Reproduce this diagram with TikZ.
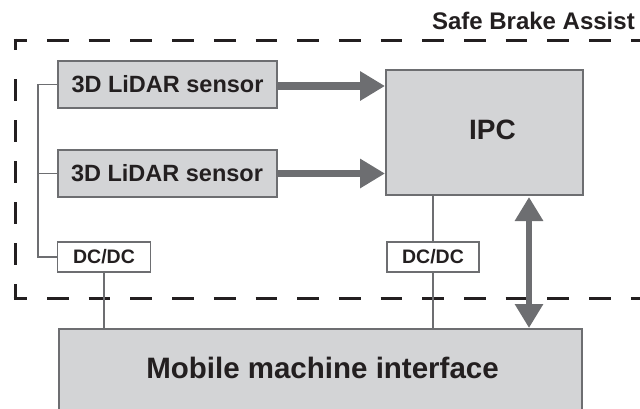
\documentclass[tikz,border=0pt]{standalone}
\usepackage{fontspec}
\setmainfont{Liberation Sans}
\usetikzlibrary{arrows.meta}
\definecolor{edgegray}{HTML}{6D6E71}
\definecolor{boxfill}{HTML}{D3D4D6}
\definecolor{ink}{HTML}{231F20}
\begin{document}
\begin{tikzpicture}[x=1pt,y=-1pt,
  gbox/.style={draw=edgegray, line width=2pt, fill=boxfill, inner sep=0pt, text=ink, font=\bfseries},
  lidarbox/.style={gbox, minimum width=219pt, minimum height=47pt, font=\bfseries\fontsize{23.5}{26}\selectfont},
  wbox/.style={draw=edgegray, line width=1.8pt, fill=white, inner sep=0pt, text=ink, font=\bfseries\fontsize{19.5}{22}\selectfont, minimum width=93pt, minimum height=30pt},
  wire/.style={draw=edgegray, line width=1.5pt},
  fat/.style={draw=edgegray, line width=7.5pt, -{Triangle[length=25pt,width=28pt]}},
  dbl/.style={draw=edgegray, line width=6pt, {Triangle[length=24pt,width=27pt]}-{Triangle[length=24pt,width=27pt]}},
  border/.style={draw=ink, line width=3pt}
]
\useasboundingbox (0,0) rectangle (640,408);
\clip (0,0) rectangle (640,408);

% dashed frame
\draw[border, dash pattern=on 21.7pt off 20pt, dash phase=8.2pt] (13.5,40) -- (645,40);
\draw[border, dash pattern=on 21.7pt off 20pt, dash phase=8.2pt] (13.5,298) -- (645,298);
\draw[border, dash pattern=on 11.5pt off 29pt on 22pt off 19pt on 22pt off 19pt on 22pt off 19pt on 22pt off 19pt on 22pt off 19pt on 30pt off 10pt] (15,38.5) -- (15,299.5);

\node[anchor=base east, text=ink, font=\bfseries\fontsize{24}{28}\selectfont, inner sep=0pt] (title) at (635,29) {Safe Brake Assist};

% boxes
\node[lidarbox] (l1) at (167.5,84.5) {3D LiDAR sensor};
\node[lidarbox] (l2) at (167,173.5) {3D LiDAR sensor};
\node[gbox, minimum width=197pt, minimum height=125pt,
      label={[text=ink, font=\bfseries\fontsize{28}{32}\selectfont, xshift=8pt, yshift=2.5pt]center:IPC}] (ipc) at (484.5,132.5) {};
\node[wbox] (dc1) at (104,257) {DC/DC};
\node[wbox, minimum width=92pt] (dc2) at (433,257) {DC/DC};
\node[gbox, minimum width=523pt, minimum height=91pt,
      label={[text=ink, font=\bfseries\fontsize{29.5}{34}\selectfont, xshift=2pt, yshift=6.5pt]center:Mobile machine interface}] (mm) at (320.5,374.5) {};

% wires
\coordinate (bus) at (38,0);
\coordinate (dblx) at (529,0);
\draw[wire] (l1.west) -- (l1.west -| bus) |- (dc1.west);
\draw[wire] (l2.west) -- (l2.west -| bus);
\draw[wire] (dc1.south) -- (dc1.south |- mm.north);
\draw[wire] (dc2.north |- ipc.south) -- (dc2.north);
\draw[wire] (dc2.south) -- (dc2.south |- mm.north);

% arrows
\draw[fat] ([yshift=-1.5pt]l1.east) -- ([yshift=-1.5pt]l1.east -| ipc.west);
\draw[fat] (l2.east) -- (l2.east -| ipc.west);
\draw[dbl] ([yshift=-1pt]ipc.south -| dblx) -- (mm.north -| dblx);
\end{tikzpicture}
\end{document}
